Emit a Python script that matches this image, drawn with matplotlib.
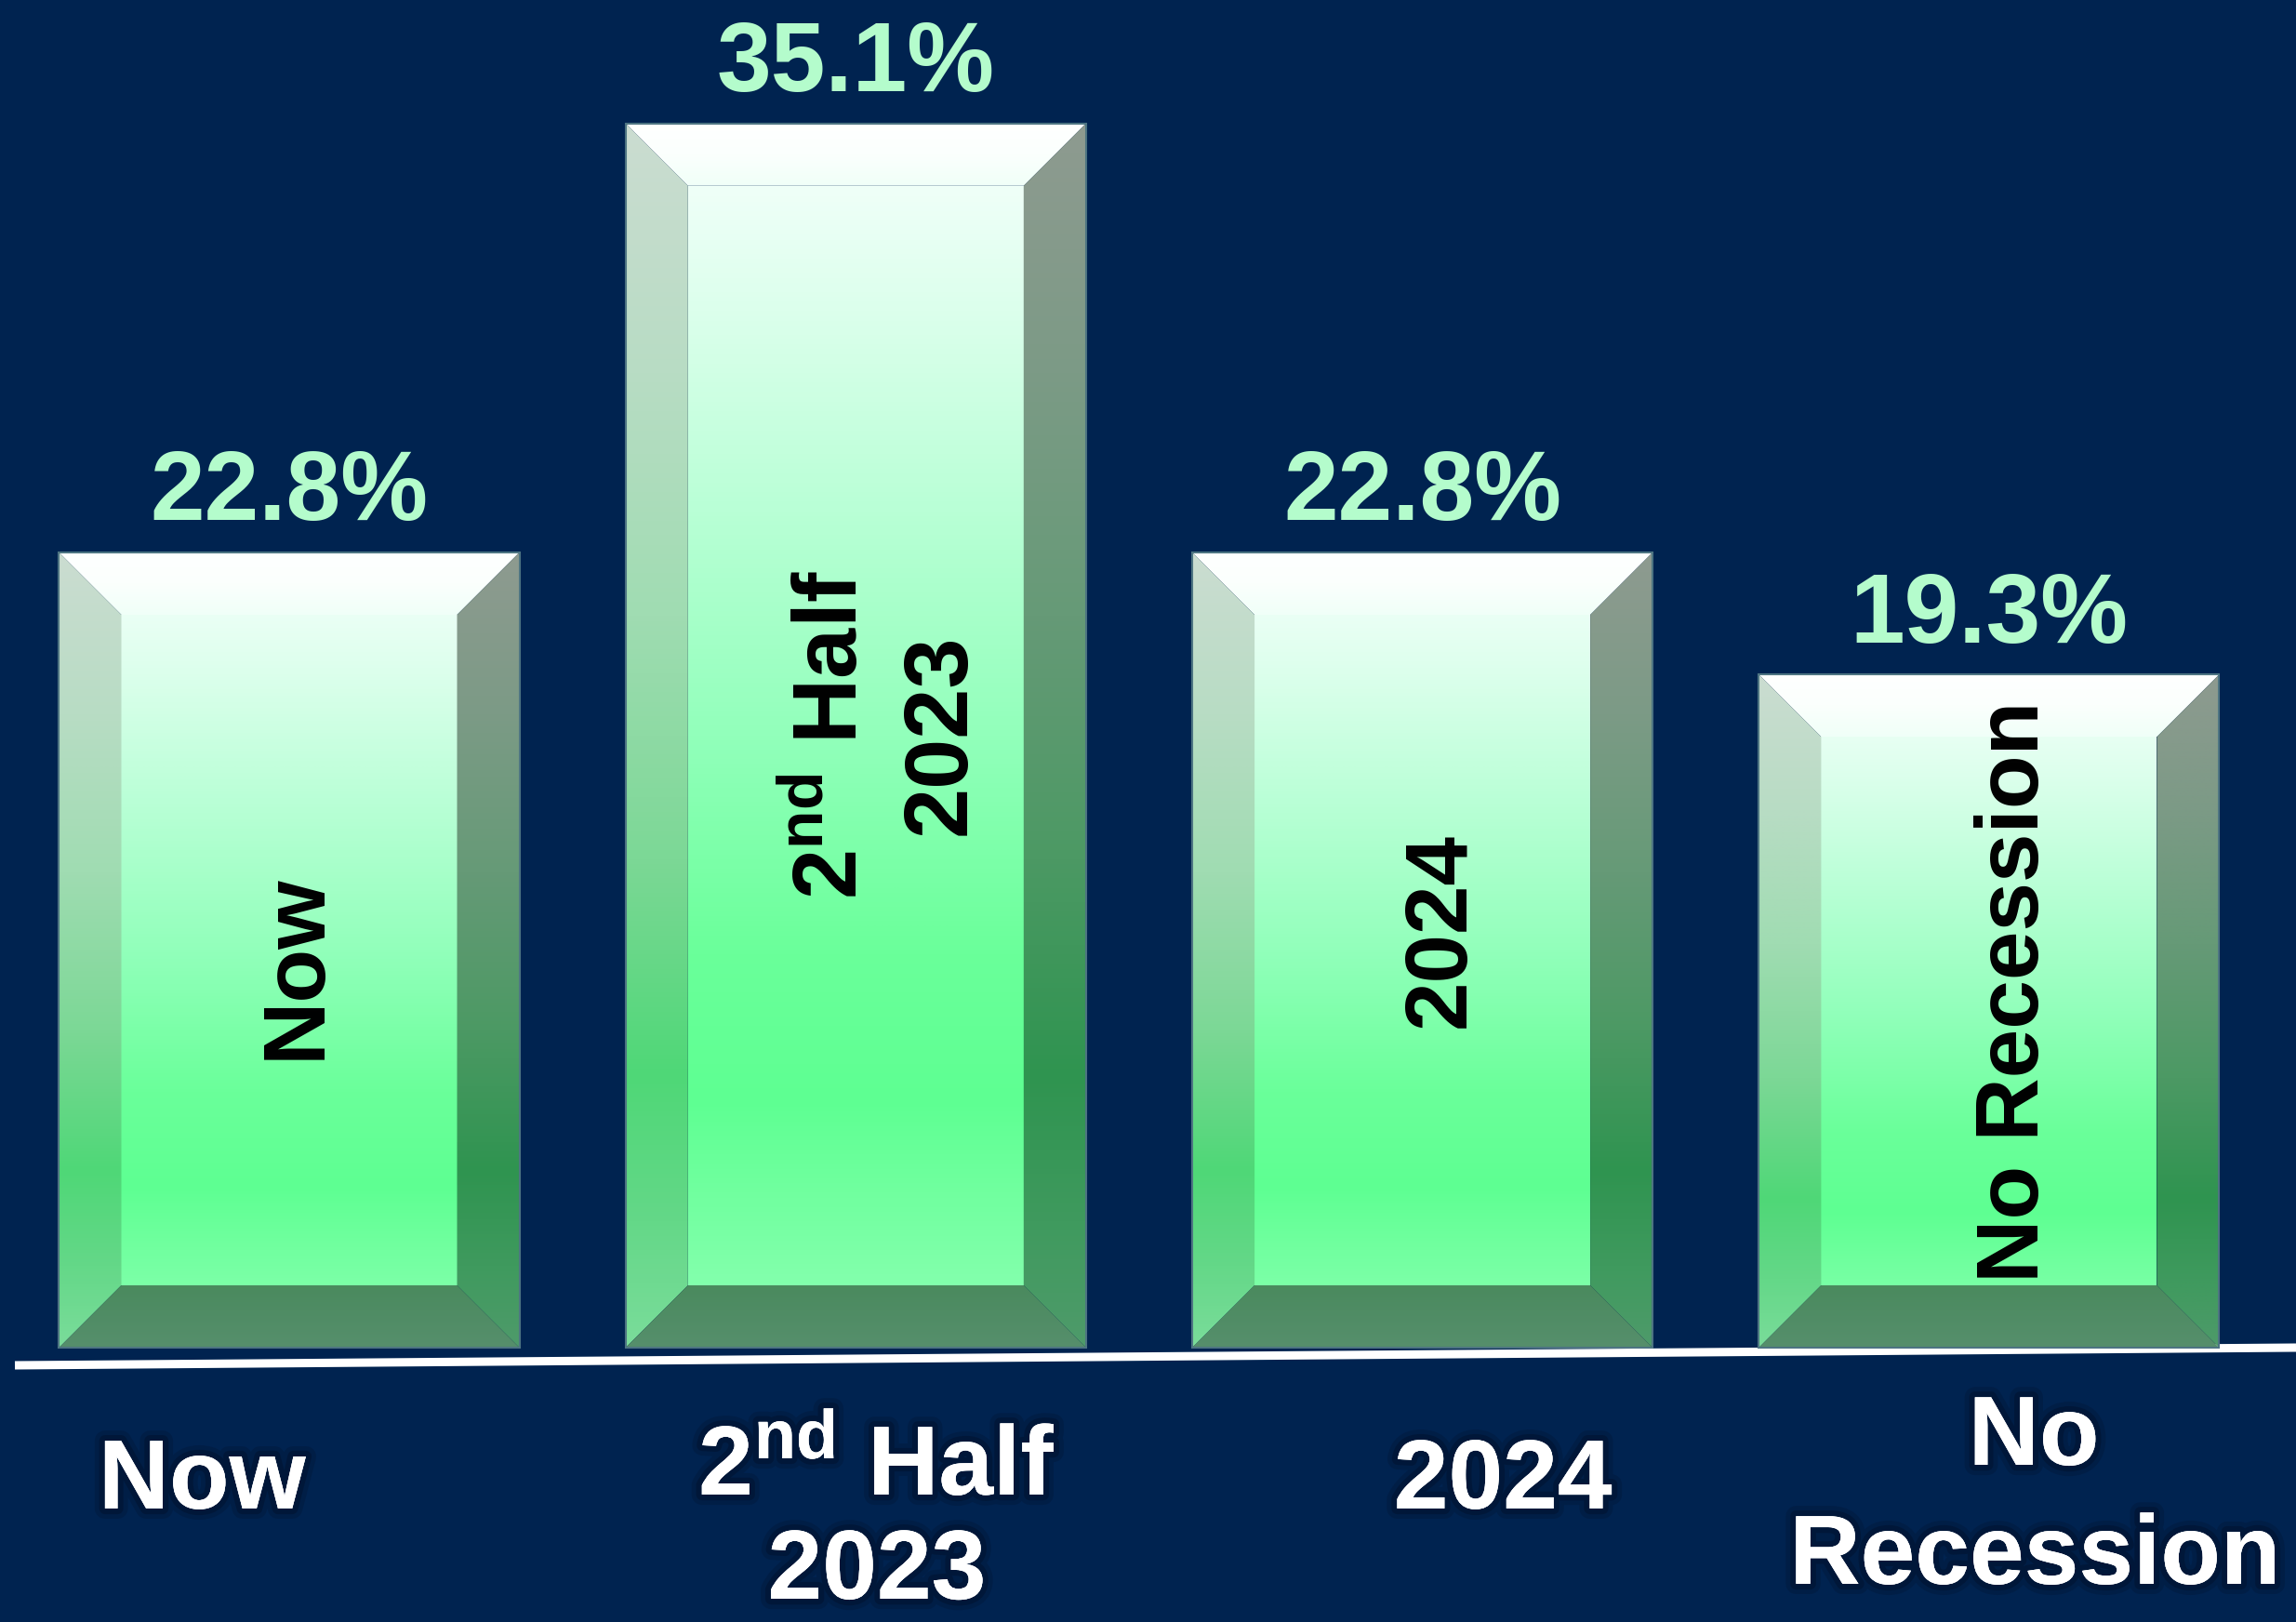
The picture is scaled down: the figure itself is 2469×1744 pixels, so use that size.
import numpy as np
import matplotlib
matplotlib.use('Agg')
import matplotlib.pyplot as plt
from matplotlib.colors import LinearSegmentedColormap
from matplotlib.patches import Polygon, Rectangle
import matplotlib.patheffects as pe

plt.rcParams['font.family'] = ['Liberation Sans', 'DejaVu Sans']
plt.rcParams['font.weight'] = 'bold'
plt.rcParams['mathtext.fontset'] = 'custom'
plt.rcParams['mathtext.rm'] = 'Liberation Sans:bold'
plt.rcParams['mathtext.it'] = 'Liberation Sans:bold'
plt.rcParams['mathtext.bf'] = 'Liberation Sans:bold'

# ---------------- data ----------------
categories = ['Now', '2nd Half 2023', '2024', 'No Recession']
values = [22.8, 35.1, 22.8, 19.3]
value_labels = ['22.8%', '35.1%', '22.8%', '19.3%']
bar_texts = [['Now'], [r'2$^{\mathrm{nd}}$ Half', '2023'], ['2024'], ['No Recession']]
axis_labels = [['Now'], [r'2$^{\mathrm{nd}}$ Half', '2023'], ['2024'], ['No', 'Recession']]

# ---------------- layout ----------------
BG = '#002350'
W, H = 2469, 1744
fig = plt.figure(figsize=(W / 100, H / 100), dpi=100, facecolor=BG)
ax = fig.add_axes([0, 0, 1, 1])
ax.set_facecolor(BG)

bar_w = 0.8125
bev_x = 0.110
bev_y = 1.787

cm_center = LinearSegmentedColormap.from_list('c', [
    (0.0, '#8cffb6'), (0.06, '#80ffaa'), (0.2, '#5eff92'), (0.32, '#6aff9a'),
    (0.5, '#92ffbb'), (0.7, '#bcffd8'), (0.85, '#dcffec'), (0.95, '#effff8'), (1.0, '#ffffff')])
cm_left = LinearSegmentedColormap.from_list('l', [
    (0.0, '#7adc9a'), (0.1, '#64d888'), (0.22, '#4fd777'), (0.4, '#7cd896'),
    (0.6, '#a0dcb2'), (0.8, '#b8dcc4'), (1.0, '#cbddd1')])
cm_right = LinearSegmentedColormap.from_list('r', [
    (0.0, '#4e9a6a'), (0.1, '#3f9a5e'), (0.22, '#2f9450'), (0.4, '#4c9964'),
    (0.6, '#669a77'), (0.8, '#7c9a86'), (1.0, '#8e9a90')])
cm_top = LinearSegmentedColormap.from_list('t', [(0.0, '#f0fff8'), (0.5, '#fbfffd'), (1.0, '#ffffff')])
cm_bot = LinearSegmentedColormap.from_list('b', [(0.0, '#568f6c'), (1.0, '#4a8a5e')])

grad = np.linspace(0, 1, 256).reshape(-1, 1)


def grad_fill(poly_pts, cmap, extent, z=3):
    poly = Polygon(poly_pts, closed=True, facecolor='none', edgecolor='none')
    ax.add_patch(poly)
    im = ax.imshow(grad, cmap=cmap, extent=extent, origin='lower', aspect='auto',
                   interpolation='bilinear', zorder=z)
    im.set_clip_path(poly)


x = np.arange(len(values))
for i, v in zip(x, values):
    x0, x1 = i - bar_w / 2, i + bar_w / 2
    y0, y1 = 0.0, v
    ix0, ix1 = x0 + bev_x, x1 - bev_x
    iy0, iy1 = y0 + bev_y, y1 - bev_y
    full = [x0, x1, y0, y1]
    grad_fill([(ix0, iy0), (ix1, iy0), (ix1, iy1), (ix0, iy1)], cm_center, full)
    grad_fill([(x0, y1), (x1, y1), (ix1, iy1), (ix0, iy1)], cm_top, [x0, x1, iy1, y1])
    grad_fill([(x0, y0), (ix0, iy0), (ix0, iy1), (x0, y1)], cm_left, full)
    grad_fill([(x1, y0), (x1, y1), (ix1, iy1), (ix1, iy0)], cm_right, full)
    grad_fill([(x0, y0), (x1, y0), (ix1, iy0), (ix0, iy0)], cm_bot, [x0, x1, y0, iy0])
    ax.add_patch(Rectangle((x0, y0), bar_w, v, facecolor='none', edgecolor='#4d7482',
                           linewidth=1.5, zorder=4))

# value labels above the bars
for i, (v, lab) in enumerate(zip(values, value_labels)):
    ax.text(i, v + 0.92, lab, ha='center', va='baseline', fontsize=76,
            fontweight='bold', color='#b4fccc', zorder=6)

# rotated labels inside the bars  (x offset of baseline, y centre, size)
inner_layout = [
    [(0.053, 10.93, 68)],
    [(0.002, 17.57, 70), (0.192, 17.57, 70)],
    [(0.074, 11.97, 68)],
    [(0.087, 10.2, 68)],
]
for i, (lines, lay) in enumerate(zip(bar_texts, inner_layout)):
    for txt, (dx, yc, fs) in zip(lines, lay):
        ax.text(i + dx, yc, txt, rotation=90, rotation_mode='anchor',
                ha='center', va='baseline', fontsize=fs, fontweight='bold',
                color='black', zorder=6)

# category labels below the baseline
glow = [pe.withStroke(linewidth=16, foreground='#00102a', alpha=0.25),
        pe.withStroke(linewidth=9, foreground='#00102a', alpha=0.45),
        pe.Normal()]
outer_layout = [
    [(-0.154, -4.61)],
    [(1.037, -4.22), (1.037, -7.20)],
    [(2.142, -4.61)],
    [(3.079, -3.36), (3.081, -6.77)],
]
for i, (lines, lay) in enumerate(zip(axis_labels, outer_layout)):
    for txt, (xx, yy) in zip(lines, lay):
        ax.text(xx, yy, txt, ha='center', va='baseline', fontsize=76,
                fontweight='bold', color='white', zorder=6, path_effects=glow)

# baseline (slightly slanted white rule)
ax.plot([16 / W, 1.0], [1 - 1468 / H, 1 - 1449 / H], transform=ax.transAxes,
        color='white', linewidth=6.5, solid_capstyle='butt', zorder=2)

ax.set_xlim(-311 / 609.3, (W - 311) / 609.3)
ax.set_ylim(-(H - 1449) / 37.5, 1449 / 37.5)
ax.axis('off')

fig.savefig('out.png', dpi=100, facecolor=BG)
